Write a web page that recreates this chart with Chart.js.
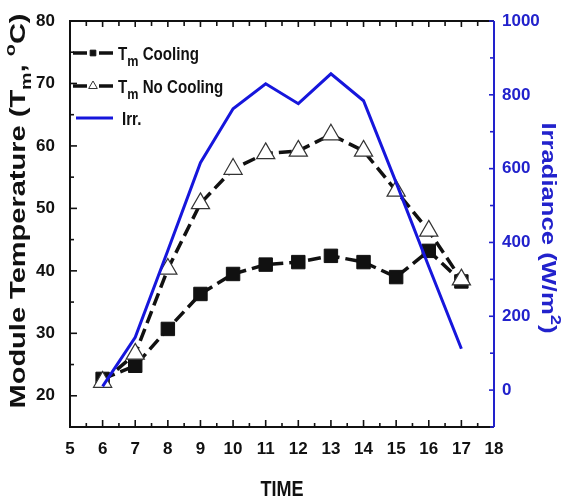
<!DOCTYPE html>
<html>
<head>
<meta charset="utf-8">
<script src="https://cdn.jsdelivr.net/npm/chart.js@4.4.1/dist/chart.umd.min.js"></script>
<style>
  html, body { margin: 0; padding: 0; background: #fff; }
</style>
</head>
<body>
<canvas id="tempChart" width="567" height="500"></canvas>
<script>
// values
const hours = [6, 7, 8, 9, 10, 11, 12, 13, 14, 15, 16, 17];
const tmCooling = [22.7, 24.8, 30.7, 36.3, 39.5, 41.0, 41.4, 42.4, 41.4, 39.0, 43.2, 38.3];
const tmNoCooling = [22.2, 26.7, 40.3, 50.8, 56.3, 58.8, 59.2, 61.8, 59.2, 52.8, 46.4, 38.6];
const irradiance = [10, 143, 378, 616, 762, 830, 776, 857, 784, 562, 335, 112];

const timeTicks = [5, 6, 7, 8, 9, 10, 11, 12, 13, 14, 15, 16, 17, 18];
const tempTicks = [20, 30, 40, 50, 60, 70, 80];
const irrTicks = [0, 200, 400, 600, 800, 1000];

const FONT = '"Liberation Sans", Arial, sans-serif';
const INK = '#111';
const BLUE = '#1616dc';
const BLUE_TXT = '#2222cc';

function pts(ys) {
    return hours.map((h, i) => ({ x: h, y: ys[i] }));
}

// axes lines + inward ticks (top/bottom, left, right)
const axesFrame = {
    id: 'axesFrame',
    afterDatasetsDraw(chart) {
        const { ctx, chartArea: a } = chart;
        const sx = chart.scales.x, sy = chart.scales.y, sr = chart.scales.y2;
        const seg = (x1, y1, x2, y2) => { ctx.beginPath(); ctx.moveTo(x1, y1); ctx.lineTo(x2, y2); ctx.stroke(); };
        ctx.save();
        ctx.strokeStyle = INK;
        ctx.lineWidth = 2;
        ctx.beginPath();
        ctx.moveTo(a.right, a.bottom); ctx.lineTo(a.left, a.bottom);
        ctx.lineTo(a.left, a.top); ctx.lineTo(a.right, a.top);
        ctx.stroke();

        ctx.lineWidth = 1.6;
        timeTicks.forEach((v, i) => {
            const px = sx.getPixelForValue(v);
            seg(px, a.bottom, px, a.bottom - 7);
            seg(px, a.top, px, a.top + 6);
            if (i < timeTicks.length - 1) {
                const mx = sx.getPixelForValue((v + timeTicks[i + 1]) / 2);
                seg(mx, a.bottom, mx, a.bottom - 4);
                seg(mx, a.top, mx, a.top + 5);
            }
        });
        tempTicks.forEach((v) => {
            const py = sy.getPixelForValue(v);
            seg(a.left, py, a.left + 7, py);
            const my = sy.getPixelForValue(v - 5);
            if (v - 5 > sy.min) seg(a.left, my, a.left + 4, my);
        });

        ctx.strokeStyle = BLUE_TXT;
        ctx.lineWidth = 2;
        seg(a.right, a.top, a.right, a.bottom);
        ctx.lineWidth = 1.6;
        irrTicks.forEach((v) => {
            const py = sr.getPixelForValue(v);
            seg(a.right, py, a.right - 5, py);
            const my = sr.getPixelForValue(v - 100);
            seg(a.right, my, a.right - 4, my);
        });
        ctx.restore();
    }
};

function runsWidth(ctx, runs) {
    let w = 0;
    runs.forEach(r => {
        ctx.font = 'bold ' + r.size + 'px ' + FONT;
        w += ctx.measureText(r.text).width;
    });
    return w;
}

function drawRuns(ctx, runs, x, y) {
    runs.forEach(r => {
        ctx.font = 'bold ' + r.size + 'px ' + FONT;
        ctx.fillText(r.text, x, y + (r.shift || 0));
        x += ctx.measureText(r.text).width;
    });
}

// narrow-looking text: squeeze horizontally
function drawNarrow(ctx, runs, x, y, k) {
    ctx.save();
    ctx.translate(x, y);
    ctx.scale(k, 1);
    drawRuns(ctx, runs, 0, 0);
    ctx.restore();
}

// titles and legend (with sub/superscripts)
const labels = {
    id: 'labels',
    afterDraw(chart) {
        const ctx = chart.ctx;
        ctx.save();
        ctx.textBaseline = 'alphabetic';
        ctx.textAlign = 'left';

        // left title
        const leftRuns = [
            { text: 'Module Temperature (T', size: 22 },
            { text: 'm', size: 15, shift: 6 },
            { text: ', ', size: 22 },
            { text: 'o', size: 15, shift: -10 },
            { text: 'C)', size: 22 }
        ];
        ctx.fillStyle = INK;
        ctx.save();
        ctx.translate(25, 211);
        ctx.rotate(-Math.PI / 2);
        let w = runsWidth(ctx, leftRuns);
        ctx.scale(395 / w, 1);
        drawRuns(ctx, leftRuns, -w / 2, 0);
        ctx.restore();

        // right title
        const rightRuns = [
            { text: 'Irradiance (W/m', size: 21 },
            { text: '2', size: 15, shift: -9 },
            { text: ')', size: 21 }
        ];
        ctx.fillStyle = BLUE_TXT;
        ctx.save();
        ctx.translate(542, 228);
        ctx.rotate(Math.PI / 2);
        w = runsWidth(ctx, rightRuns);
        ctx.scale(211 / w, 1);
        drawRuns(ctx, rightRuns, -w / 2, 0);
        ctx.restore();

        // x title
        ctx.fillStyle = INK;
        const timeRuns = [{ text: 'TIME', size: 22 }];
        w = runsWidth(ctx, timeRuns) * 0.82;
        drawNarrow(ctx, timeRuns, 282 - w / 2, 496, 0.82);

        // legend
        const ds = chart.data.datasets;
        const rows = [
            { y: 53, d: ds[0], text: 'Cooling', sub: true },
            { y: 86, d: ds[1], text: 'No Cooling', sub: true },
            { y: 118, d: ds[2], text: 'Irr.', sub: false }
        ];
        rows.forEach(r => {
            ctx.save();
            ctx.strokeStyle = r.d.borderColor;
            ctx.lineWidth = r.d.borderWidth;
            if (r.d.borderDash) {
                ctx.beginPath(); ctx.moveTo(73, r.y); ctx.lineTo(87, r.y); ctx.stroke();
                ctx.beginPath(); ctx.moveTo(99, r.y); ctx.lineTo(113, r.y); ctx.stroke();
                ctx.fillStyle = r.d.pointBackgroundColor;
                ctx.strokeStyle = r.d.pointBorderColor;
                ctx.lineWidth = 1;
                Chart.helpers.drawPoint(ctx, { pointStyle: r.d.pointStyle, radius: r.d.pointStyle === 'rect' ? 4 : 5, borderWidth: 1, rotation: 0 }, 93, r.y);
            } else {
                ctx.beginPath(); ctx.moveTo(76, r.y); ctx.lineTo(113, r.y); ctx.stroke();
            }
            ctx.restore();
            ctx.fillStyle = INK;
            if (r.sub) {
                drawNarrow(ctx, [
                    { text: 'T', size: 18 },
                    { text: 'm', size: 15, shift: 6 },
                    { text: ' ' + r.text, size: 18 }
                ], 118, r.y + 7, 0.84);
            } else {
                drawNarrow(ctx, [{ text: r.text, size: 18 }], 122, r.y + 7, 0.84);
            }
        });
        ctx.restore();
    }
};

function fixVertical(width) {
    return s => {
        s.width = width;
        s.paddingTop = 0;
        s.paddingBottom = 0;
    };
}

new Chart(document.getElementById('tempChart').getContext('2d'), {
    type: 'line',
    data: {
        datasets: [
            {
                label: 'Tm Cooling',
                data: pts(tmCooling),
                yAxisID: 'y',
                borderColor: INK,
                borderWidth: 3.5,
                borderDash: [13, 6],
                pointStyle: 'rect',
                pointRadius: 9.5,
                pointBackgroundColor: INK,
                pointBorderColor: INK,
                pointBorderWidth: 1,
                order: 3
            },
            {
                label: 'Tm No Cooling',
                data: pts(tmNoCooling),
                yAxisID: 'y',
                borderColor: INK,
                borderWidth: 3.5,
                borderDash: [13, 6],
                pointStyle: 'triangle',
                pointRadius: 10.5,
                pointBackgroundColor: '#fff',
                pointBorderColor: '#333',
                pointBorderWidth: 1.2,
                order: 2
            },
            {
                label: 'Irr.',
                data: pts(irradiance),
                yAxisID: 'y2',
                borderColor: BLUE,
                borderWidth: 3,
                pointRadius: 0,
                order: 1
            }
        ]
    },
    options: {
        responsive: false,
        animation: false,
        layout: { padding: { top: 21, left: 0, right: 0, bottom: 0 } },
        scales: {
            x: {
                type: 'linear',
                min: 5,
                max: 18,
                afterBuildTicks: s => { s.ticks = timeTicks.map(v => ({ value: v })); },
                afterFit: s => { s.height = 73; },
                grid: { display: false, drawTicks: false },
                border: { display: false },
                ticks: {
                    autoSkip: false,
                    maxRotation: 0,
                    padding: 12,
                    color: INK,
                    font: { family: FONT, size: 17, weight: 'bold' }
                }
            },
            y: {
                position: 'left',
                min: 15,
                max: 80,
                afterBuildTicks: s => { s.ticks = tempTicks.map(v => ({ value: v })); },
                afterFit: fixVertical(70),
                grid: { display: false, drawTicks: false },
                border: { display: false },
                ticks: {
                    padding: 15,
                    color: INK,
                    font: { family: FONT, size: 17, weight: 'bold' }
                }
            },
            y2: {
                position: 'right',
                min: -100,
                max: 1000,
                afterBuildTicks: s => { s.ticks = irrTicks.map(v => ({ value: v })); },
                afterFit: fixVertical(73),
                grid: { display: false, drawTicks: false },
                border: { display: false },
                ticks: {
                    padding: 8,
                    color: BLUE_TXT,
                    callback: v => String(v),
                    font: { family: FONT, size: 17, weight: 'bold' }
                }
            }
        },
        plugins: {
            legend: { display: false },
            tooltip: { enabled: false }
        }
    },
    plugins: [axesFrame, labels]
});
</script>
</body>
</html>
